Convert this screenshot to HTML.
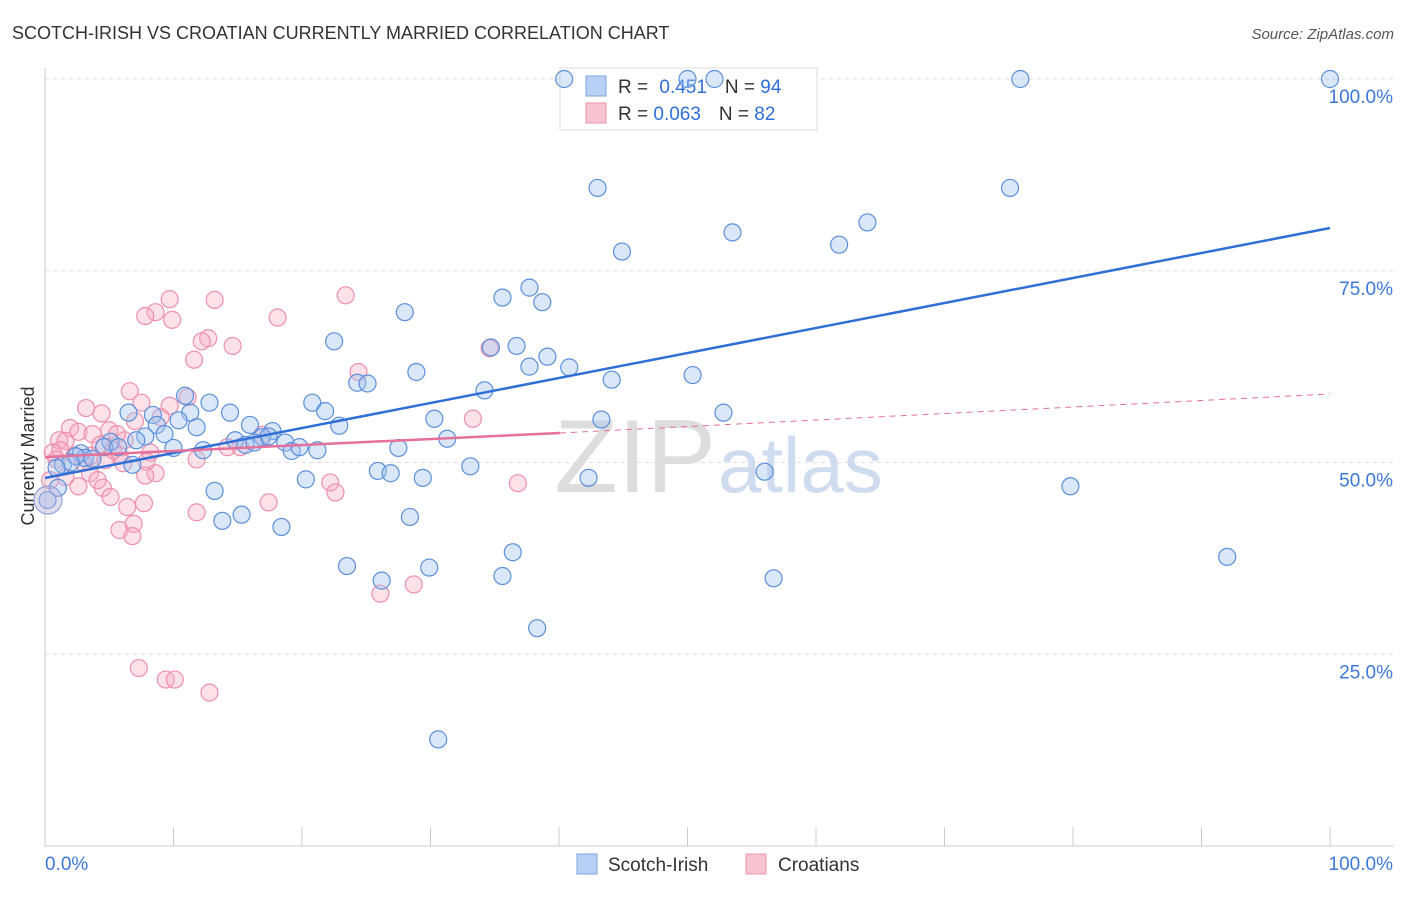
<!DOCTYPE html>
<html><head><meta charset="utf-8"><style>
body{margin:0;background:#fff;font-family:"Liberation Sans",sans-serif;}
svg text{font-family:"Liberation Sans",sans-serif;}
</style></head><body>
<svg id="c" width="1406" height="892" xmlns="http://www.w3.org/2000/svg">
<text x="12" y="39" font-size="18" fill="#333">SCOTCH-IRISH VS CROATIAN CURRENTLY MARRIED CORRELATION CHART</text>
<text x="1394" y="39" font-size="15" fill="#555" font-style="italic" text-anchor="end">Source: ZipAtlas.com</text>
<text x="34" y="456" font-size="18" fill="#333" text-anchor="middle" transform="rotate(-90 34 456)">Currently Married</text>
<g id="grid"></g>
<text x="716" y="492" font-size="104" fill="#ddd" text-anchor="end" font-family="Liberation Serif">ZIP</text>
<text x="718" y="492" font-size="78" fill="#cfdcf0">atlas</text>
<g>
<rect x="560" y="68" width="257" height="62" fill="#fff" stroke="#ddd"/>
<rect x="586" y="76" width="20" height="20" fill="#b8d0f4" stroke="#7aa4e0"/>
<rect x="586" y="103" width="20" height="20" fill="#f9c4d2" stroke="#ee93ab"/>
<text x="618" y="93" font-size="19" fill="#333">R = <tspan fill="#2f6fd6" dx="6">0.451</tspan><tspan dx="18" fill="#333">N = </tspan><tspan fill="#2f6fd6">94</tspan></text>
<text x="618" y="120" font-size="19" fill="#333">R = <tspan fill="#2f6fd6">0.063</tspan><tspan dx="18" fill="#333">N = </tspan><tspan fill="#2f6fd6">82</tspan></text>
</g>
<g id="pts"></g>
<g id="lines"></g>
<g>
<rect x="577" y="854" width="20" height="20" fill="#b8d0f4" stroke="#7aa4e0"/>
<text x="608" y="871" font-size="19" fill="#333">Scotch-Irish</text>
<rect x="746" y="854" width="20" height="20" fill="#f9c4d2" stroke="#ee93ab"/>
<text x="778" y="871" font-size="19" fill="#333">Croatians</text>
</g>
</svg>
<script>
const yTicks=[25,50,75,100];
const xTickLabels=["0.0%","100.0%"];
const blueX=[40.4,50.0,52.1,75.9,100,43.0,75.1,44.9,53.5,61.8,64.0,37.7,35.6,38.7,28.0,22.5,36.7,34.7,39.1,37.7,40.8,28.9,44.1,50.4,24.3,25.1,34.2,10.9,12.8,20.8,21.8,6.5,8.4,11.3,14.4,30.3,43.3,52.8,10.4,8.7,11.8,15.95,22.9,17.7,7.8,9.3,14.8,16.9,17.4,31.3,5.1,7.1,18.7,4.6,5.7,10.0,12.3,15.6,16.3,19.2,19.8,21.2,27.5,2.8,3.1,2.4,3.7,1.4,2.0,6.8,33.1,25.9,26.9,29.4,20.3,42.3,56.0,79.8,1.0,13.2,15.3,18.4,13.8,28.4,29.9,35.6,36.4,23.5,26.2,56.7,92.0,38.3,30.6,0.2,0.9];
const blueY=[100,100,100,100,100,85.8,85.8,77.5,80.0,78.4,81.3,72.8,71.5,70.9,69.6,65.8,65.2,65.0,63.8,62.5,62.4,61.8,60.8,61.4,60.4,60.3,59.4,58.7,57.8,57.8,56.7,56.5,56.2,56.5,56.5,55.7,55.6,56.5,55.5,54.9,54.6,54.9,54.8,54.1,53.4,53.7,52.9,53.3,53.4,53.1,52.7,52.9,52.6,52.0,52.0,51.9,51.6,52.3,52.6,51.5,52.0,51.6,51.9,51.2,50.6,50.8,50.5,49.7,50.0,49.7,49.5,48.9,48.6,48.0,47.8,48.0,48.8,46.9,46.7,46.3,43.2,41.6,42.4,42.9,36.3,35.2,38.3,36.5,34.6,34.9,37.7,28.4,13.9,45.1,49.3];
const pinkX=[9.7,13.2,23.4,8.6,7.8,9.9,18.1,12.7,12.2,14.6,11.6,24.4,34.6,6.6,11.1,7.5,9.7,3.2,4.4,33.3,9.0,7.0,1.95,2.6,3.7,1.1,1.6,5.0,6.2,4.3,5.3,8.2,5.8,0.6,1.2,2.3,3.6,4.7,6.1,7.9,11.8,8.6,3.5,4.1,7.8,1.6,2.6,4.5,5.1,14.2,15.2,16.9,22.2,22.6,36.8,17.4,11.8,6.4,7.7,5.8,6.9,6.8,26.1,28.7,7.3,9.4,10.1,12.8,0.4,0.9,2.95,5.6];
const pinkY=[71.3,71.2,71.8,69.6,69.1,68.6,68.9,66.2,65.8,65.2,63.4,61.8,64.9,59.3,58.5,57.8,57.4,57.1,56.4,55.7,55.9,55.4,54.5,54.0,53.7,52.9,52.8,54.2,52.9,52.3,51.6,51.3,50.9,51.3,51.6,50.9,50.9,50.3,49.9,50.1,50.4,48.6,48.6,47.7,48.3,48.1,46.9,46.7,45.5,52.0,52.0,53.6,47.4,46.1,47.3,44.8,43.5,44.2,44.7,41.2,42.0,40.4,32.9,34.1,23.2,21.7,21.7,20.0,47.7,50.4,50.0,53.7];
const X0=45,X1=1330,Y0=846,Y100=79;
const sx=v=>X0+(X1-X0)*v/100, sy=v=>Y0-(Y0-Y100)*v/100;
const NS="http://www.w3.org/2000/svg";
function mk(t,a,p){const e=document.createElementNS(NS,t);for(const k in a)e.setAttribute(k,a[k]);p.appendChild(e);return e;}
const g=document.getElementById('grid');
for(const t of yTicks){
 const l=mk('line',{x1:45,x2:1394,y1:sy(t),y2:sy(t),stroke:'#ddd','stroke-dasharray':'4,4'},g);
 
 
 const tx=mk('text',{x:1393,y:sy(t)+24,'font-size':19,fill:'#3c78d8','text-anchor':'end'},g);
 tx.textContent=t.toFixed(1)+'%';
 
 
}
mk('line',{x1:45,x2:45,y1:68,y2:846,stroke:'#ccc'},g);
mk('line',{x1:45,x2:1394,y1:846,y2:846,stroke:'#ccc'},g);
for(let i=0;i<=10;i++){const x=sx(i*10);const l=mk('line',{x1:x,x2:x,y1:827,y2:846,stroke:'#ccc'},g);
 
 }
const xl0=mk('text',{x:45,y:870,'font-size':19,fill:'#3c78d8'},g);xl0.textContent=xTickLabels[0];


const xl1=mk('text',{x:1393,y:870,'font-size':19,fill:'#3c78d8','text-anchor':'end'},g);xl1.textContent=xTickLabels[1];


const p=document.getElementById('pts');
pinkX.forEach((x,i)=>{const c=mk('circle',{cx:sx(x),cy:sy(pinkY[i]),r:8.5,fill:'rgba(246,170,192,0.35)',stroke:'#ef8fab','stroke-width':1.2},p);
 
 });
blueX.forEach((x,i)=>{const c=mk('circle',{cx:sx(x),cy:sy(blueY[i]),r:8.5,fill:'rgba(160,195,240,0.4)',stroke:'#5b8fdc','stroke-width':1.2},p);
 
 });
const big=mk('circle',{cx:48,cy:500,r:14,fill:'rgba(190,180,220,0.45)',stroke:'#8fa4dc','stroke-width':1.2},p);


const L=document.getElementById('lines');
const bl=mk('line',{x1:sx(0),y1:478,x2:sx(100),y2:228,stroke:'#2f6fd6','stroke-width':2.5},L);


const pl=mk('line',{x1:sx(0),y1:457,x2:560,y2:433,stroke:'#e5709a','stroke-width':2.5},L);


const pd=mk('line',{x1:560,y1:433,x2:sx(100),y2:394,stroke:'#e5709a','stroke-width':1,'stroke-dasharray':'6,5'},L);


</script>
</body></html>
